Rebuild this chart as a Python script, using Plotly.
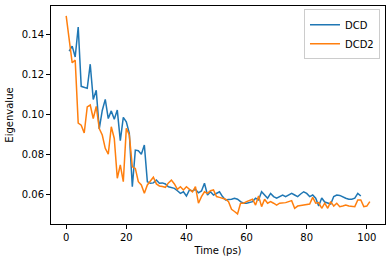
import plotly.graph_objects as go

# DCD series (time in ps, eigenvalue)
dcd_t = [1, 2, 3, 4, 5, 6, 7, 8, 9, 10, 11, 12, 13, 14, 15, 16, 17, 18, 19, 20,
         21, 22, 23, 24, 25, 26, 27, 28, 29, 30, 31, 32, 33, 34, 35, 36, 37, 38, 39, 40,
         41, 42, 43, 44, 45, 46, 47, 48, 49, 50, 51, 52, 53, 54, 55, 56, 57, 58, 59, 60,
         61, 62, 63, 64, 65, 66, 67, 68, 69, 70, 71, 72, 73, 74, 75, 76, 77, 78, 79, 80,
         81, 82, 83, 84, 85, 86, 87, 88, 89, 90, 91, 92, 93, 94, 95, 96, 97, 98]
dcd_v = [0.1315, 0.134, 0.1286, 0.1435, 0.114, 0.1135, 0.113, 0.125, 0.1075, 0.112,
         0.0928, 0.102, 0.1075, 0.098, 0.1018, 0.0976, 0.1022, 0.087, 0.0986, 0.0964,
         0.0906, 0.0641, 0.0823, 0.082, 0.0803, 0.0848, 0.0666, 0.0658, 0.066, 0.0674,
         0.0658, 0.066, 0.0655, 0.0641, 0.0638, 0.0633, 0.0621, 0.0608, 0.0616, 0.0595,
         0.0625, 0.062, 0.0628, 0.0611, 0.062, 0.0658, 0.060, 0.0616, 0.060, 0.0608,
         0.0616, 0.0592, 0.0575, 0.0578, 0.0579, 0.0584, 0.0579, 0.0567, 0.0559, 0.0559,
         0.0563, 0.0567, 0.0584, 0.0575, 0.0616, 0.060, 0.0584, 0.0608, 0.0592, 0.0584,
         0.0592, 0.060, 0.0592, 0.060, 0.0608, 0.060, 0.0592, 0.0605, 0.0616, 0.0608,
         0.0592, 0.060, 0.0584, 0.0545, 0.0585, 0.0565, 0.0559, 0.0555, 0.0592, 0.060,
         0.0598, 0.059, 0.0584, 0.0579, 0.0579, 0.0584, 0.0608, 0.0595]

# DCD2 series
dcd2_t = [0, 2, 3, 4, 5, 6, 7, 8, 9, 10, 11, 12, 13, 14, 15, 16, 17, 18, 19, 20,
          21, 22, 23, 24, 25, 26, 27, 28, 29, 30, 31, 32, 33, 34, 35, 36, 37, 38, 39, 40,
          41, 42, 43, 44, 45, 46, 47, 48, 49, 50, 51, 52, 53, 54, 55, 56, 57, 58, 59, 60,
          61, 62, 63, 64, 65, 66, 67, 68, 69, 70, 71, 72, 73, 74, 75, 76, 77, 78, 79, 80,
          81, 82, 83, 84, 85, 86, 87, 88, 89, 90, 91, 92, 93, 94, 95, 96, 97, 98, 99, 100, 101]
dcd2_v = [0.149, 0.1257, 0.127, 0.0957, 0.0947, 0.0908, 0.1038, 0.1047, 0.098, 0.104,
          0.093, 0.0898, 0.0832, 0.0803, 0.0939, 0.0881, 0.0683, 0.0749, 0.0666, 0.0931,
          0.0898, 0.074, 0.0732, 0.0666, 0.065, 0.0608, 0.065, 0.0668, 0.0688, 0.0655,
          0.0645, 0.0642, 0.0638, 0.066, 0.0674, 0.0655, 0.0628, 0.0641, 0.0625, 0.0641,
          0.063, 0.0616, 0.0641, 0.0559, 0.0592, 0.0616, 0.0608, 0.0621, 0.0625, 0.0592,
          0.0588, 0.0585, 0.0579, 0.0567, 0.0529, 0.0518, 0.0506, 0.0559, 0.0559, 0.0567,
          0.0575, 0.0579, 0.055, 0.0595, 0.0542, 0.0579, 0.0559, 0.0567, 0.0559, 0.055,
          0.0559, 0.056, 0.0562, 0.0567, 0.0572, 0.0534, 0.0545, 0.0548, 0.055, 0.055,
          0.0555, 0.0588, 0.0559, 0.0562, 0.0534, 0.0559, 0.0534, 0.0567, 0.0545, 0.0559,
          0.0542, 0.0545, 0.055, 0.0545, 0.0542, 0.0542, 0.0575, 0.0575, 0.0542, 0.0545, 0.0567]

x_ticks = [0, 20, 40, 60, 80, 100]
y_ticks = [0.06, 0.08, 0.10, 0.12, 0.14]

font = dict(family="DejaVu Sans", size=10, color="black")

fig = go.Figure()
fig.add_trace(go.Scatter(x=dcd_t, y=dcd_v, mode="lines", name="DCD",
                         line=dict(color="#1f77b4", width=1.5)))
fig.add_trace(go.Scatter(x=dcd2_t, y=dcd2_v, mode="lines", name="DCD2",
                         line=dict(color="#ff7f0e", width=1.5)))

axis_common = dict(showline=True, linecolor="black", linewidth=1, mirror=True,
                   ticks="outside", ticklen=4, tickwidth=1, tickcolor="black",
                   showgrid=False, zeroline=False, tickfont=font)

fig.update_layout(
    width=392, height=262,
    margin=dict(l=51, r=7, t=6, b=38),
    paper_bgcolor="white", plot_bgcolor="white",
    font=font,
    xaxis=dict(range=[-5.05, 106.05], tickvals=x_ticks,
               title=dict(text="Time (ps)", font=font, standoff=4), **axis_common),
    yaxis=dict(range=[0.04558, 0.15392], tickvals=y_ticks, tickformat=".2f",
               title=dict(text="Eigenvalue", font=font, standoff=6), **axis_common),
    legend=dict(x=0.985, y=0.985, xanchor="right", yanchor="top",
                bgcolor="white", bordercolor="#cccccc", borderwidth=1,
                font=font, tracegroupgap=0, itemwidth=30),
    showlegend=True,
)

fig.write_html("out.html")
